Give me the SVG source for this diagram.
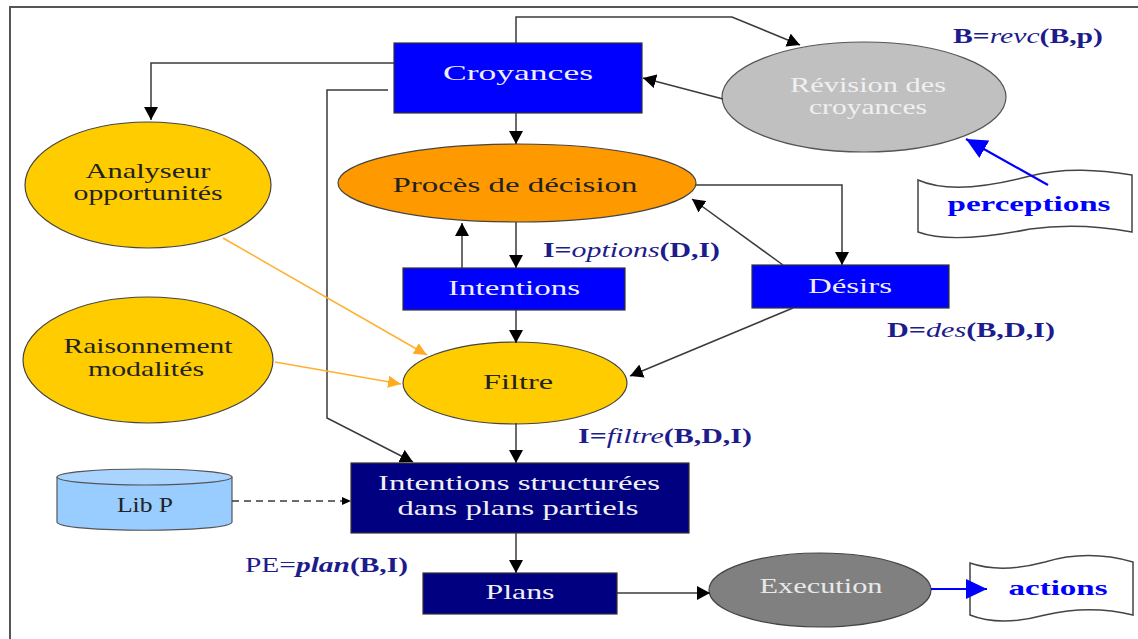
<svg xmlns="http://www.w3.org/2000/svg" width="1138" height="639" viewBox="0 0 1138 639" font-family="'Liberation Serif', 'Times New Roman', 'DejaVu Serif', serif">
<style>
text{font-family:'Liberation Serif','Times New Roman','DejaVu Serif',serif;font-size:21px;text-anchor:middle}
.box{fill:#0000ff;stroke:#333;stroke-width:1.2}
.navy{fill:#000080;stroke:#333;stroke-width:1.2}
.yel{fill:#ffcc00;stroke:#444;stroke-width:1.2}
.light{fill:#eeeeff}
.dark{fill:#222}
.lbl{fill:#1c1c8c;text-anchor:start;font-size:20px}
.b{font-weight:bold}
.i{font-style:italic}
.con{fill:none;stroke:#3a3a3a;stroke-width:1.5}
.org{fill:none;stroke:#ffb030;stroke-width:1.5}
.blu{fill:none;stroke:#0000ff;stroke-width:2.2}
.doc{fill:#fff;stroke:#444;stroke-width:1.5}
.bt{fill:#0000ff;font-weight:bold}
</style>
<defs>
<marker id="ab" markerUnits="userSpaceOnUse" markerWidth="14" markerHeight="14" refX="13" refY="7" orient="auto"><path d="M0,0 L13,7 L0,14 z" fill="#000"/></marker>
<marker id="ao" markerUnits="userSpaceOnUse" markerWidth="14" markerHeight="12" refX="13" refY="6" orient="auto"><path d="M0,0 L13,6 L0,12 z" fill="#ffaa20"/></marker>
<marker id="as" markerUnits="userSpaceOnUse" markerWidth="10" markerHeight="10" refX="9" refY="5" orient="auto"><path d="M0,1 L9,5 L0,9 z" fill="#000"/></marker>
<marker id="abl" markerUnits="userSpaceOnUse" markerWidth="22" markerHeight="20" refX="21" refY="10" orient="auto"><path d="M0,0 L21,10 L0,20 z" fill="#0000ff"/></marker>
</defs>
<rect width="1138" height="639" fill="#fff"/>
<g id="frame" fill="none" stroke="#555" stroke-width="2">
<path d="M1138,7 L10,7 L10,639"/>
</g>
<g id="croyances">
<rect class="box" x="394" y="43" width="248" height="70"/>
<text class="light" x="518" y="80" textLength="150" lengthAdjust="spacingAndGlyphs">Croyances</text>
</g>
<g id="revision">
<ellipse cx="864" cy="97" rx="142" ry="55" fill="#c0c0c0" stroke="#555" stroke-width="1.2"/>
<text x="868" y="92" fill="#f0f0f0" textLength="156" lengthAdjust="spacingAndGlyphs">Révision des</text>
<text x="868" y="114" fill="#f0f0f0" textLength="118" lengthAdjust="spacingAndGlyphs">croyances</text>
</g>
<g id="label-revc">
<text class="lbl" x="953" y="43" textLength="150" lengthAdjust="spacingAndGlyphs"><tspan class="b">B=</tspan><tspan class="i">revc</tspan><tspan class="b">(B,p)</tspan></text>
</g>
<g id="perceptions">
<path class="doc" d="M918,180 C945,192 985,188 1030,176 C1065,167 1100,170 1132,175 L1132,232 C1100,226 1065,224 1030,229 C985,238 945,242 918,232 Z"/>
<text class="bt" x="1029" y="211" textLength="163" lengthAdjust="spacingAndGlyphs">perceptions</text>
</g>
<g id="analyseur">
<ellipse class="yel" cx="148" cy="185" rx="123" ry="63"/>
<text class="dark" x="148" y="178" textLength="125" lengthAdjust="spacingAndGlyphs">Analyseur</text>
<text class="dark" x="148" y="200" textLength="149" lengthAdjust="spacingAndGlyphs">opportunités</text>
</g>
<g id="proces">
<ellipse cx="517" cy="183" rx="179" ry="39" fill="#ff9900" stroke="#444" stroke-width="1.2"/>
<text class="dark" x="515" y="192" textLength="245" lengthAdjust="spacingAndGlyphs">Procès de décision</text>
</g>
<g id="label-options">
<text class="lbl" x="543" y="257" textLength="177" lengthAdjust="spacingAndGlyphs"><tspan class="b">I=</tspan><tspan class="i">options</tspan><tspan class="b">(D,I)</tspan></text>
</g>
<g id="intentions">
<rect class="box" x="403" y="268" width="222" height="42"/>
<text class="light" x="514" y="295" textLength="132" lengthAdjust="spacingAndGlyphs">Intentions</text>
</g>
<g id="desirs">
<rect class="box" x="752" y="265" width="197" height="43"/>
<text class="light" x="850" y="293" textLength="84" lengthAdjust="spacingAndGlyphs">Désirs</text>
</g>
<g id="label-des">
<text class="lbl" x="887" y="337" textLength="168" lengthAdjust="spacingAndGlyphs"><tspan class="b">D=</tspan><tspan class="i">des</tspan><tspan class="b">(B,D,I)</tspan></text>
</g>
<g id="raisonnement">
<ellipse class="yel" cx="148" cy="360" rx="125" ry="63"/>
<text class="dark" x="148" y="353" textLength="169" lengthAdjust="spacingAndGlyphs">Raisonnement</text>
<text class="dark" x="146" y="376" textLength="116" lengthAdjust="spacingAndGlyphs">modalités</text>
</g>
<g id="filtre">
<ellipse class="yel" cx="515" cy="383" rx="112" ry="41"/>
<text class="dark" x="518" y="389" textLength="70" lengthAdjust="spacingAndGlyphs">Filtre</text>
</g>
<g id="label-filtre">
<text class="lbl" x="578" y="443" textLength="174" lengthAdjust="spacingAndGlyphs"><tspan class="b">I=</tspan><tspan class="i">filtre</tspan><tspan class="b">(B,D,I)</tspan></text>
</g>
<g id="libp">
<path d="M57,477 L57,522 C57,533 232,533 232,522 L232,477" fill="#99ccff" stroke="#555" stroke-width="1.2"/>
<ellipse cx="144.5" cy="477" rx="87.5" ry="8" fill="#a8d4ff" stroke="#555" stroke-width="1.2"/>
<text class="dark" x="145" y="512" textLength="56" lengthAdjust="spacingAndGlyphs">Lib P</text>
</g>
<g id="structurees">
<rect class="navy" x="351" y="463" width="338" height="70"/>
<text fill="#f0f0f0" x="519" y="490" textLength="282" lengthAdjust="spacingAndGlyphs">Intentions structurées</text>
<text fill="#f0f0f0" x="518" y="515" textLength="241" lengthAdjust="spacingAndGlyphs">dans plans partiels</text>
</g>
<g id="label-plan">
<text class="lbl" x="245" y="572" textLength="163" lengthAdjust="spacingAndGlyphs"><tspan>PE=</tspan><tspan class="i b">plan</tspan><tspan class="b">(B,I)</tspan></text>
</g>
<g id="plans">
<rect class="navy" x="423" y="573" width="194" height="41"/>
<text fill="#f0f0f0" x="520" y="599" textLength="69" lengthAdjust="spacingAndGlyphs">Plans</text>
</g>
<g id="execution">
<ellipse cx="820" cy="590" rx="111" ry="37" fill="#808080" stroke="#444" stroke-width="1.2"/>
<text fill="#e8e8e8" x="821" y="593" textLength="123" lengthAdjust="spacingAndGlyphs">Execution</text>
</g>
<g id="actions">
<path class="doc" d="M970,563 C990,570 1015,570 1045,562 C1075,553 1105,554 1133,562 L1133,615 C1105,608 1075,608 1045,615 C1015,623 990,623 970,615 Z"/>
<text class="bt" x="1058" y="595" textLength="99" lengthAdjust="spacingAndGlyphs">actions</text>
</g>
<g id="connectors">
<polyline class="con" points="516,43 516,17 732,17 800,45" marker-end="url(#ab)"/>
<line class="con" x1="723" y1="99" x2="643" y2="78" marker-end="url(#ab)"/>
<polyline class="con" points="394,63 151,63 151,120" marker-end="url(#ab)"/>
<polyline class="con" points="388,90 327,90 327,418 413,462" marker-end="url(#ab)"/>
<line class="con" x1="516" y1="113" x2="516" y2="144" marker-end="url(#ab)"/>
<polyline class="con" points="696,185 842,185 842,265" marker-end="url(#ab)"/>
<line class="con" x1="783" y1="265" x2="692" y2="199" marker-end="url(#ab)"/>
<line class="con" x1="516" y1="222" x2="516" y2="268" marker-end="url(#ab)"/>
<line class="con" x1="462" y1="268" x2="462" y2="223" marker-end="url(#ab)"/>
<line class="con" x1="516" y1="310" x2="516" y2="343" marker-end="url(#ab)"/>
<line class="con" x1="793" y1="308" x2="630" y2="376" marker-end="url(#ab)"/>
<line class="org" x1="223" y1="238" x2="427" y2="355" marker-end="url(#ao)"/>
<line class="org" x1="275" y1="362" x2="401" y2="384" marker-end="url(#ao)"/>
<line class="con" x1="516" y1="423" x2="516" y2="463" marker-end="url(#ab)"/>
<line class="con" x1="232" y1="501" x2="351" y2="501" stroke-dasharray="7,5" marker-end="url(#as)"/>
<line class="con" x1="516" y1="533" x2="516" y2="573" marker-end="url(#ab)"/>
<line class="con" x1="617" y1="593" x2="710" y2="593" marker-end="url(#ab)"/>
<line class="blu" x1="931" y1="589" x2="987" y2="589" marker-end="url(#abl)"/>
<line class="blu" x1="1048" y1="185" x2="966" y2="139" marker-end="url(#abl)"/>
</g>
</svg>
